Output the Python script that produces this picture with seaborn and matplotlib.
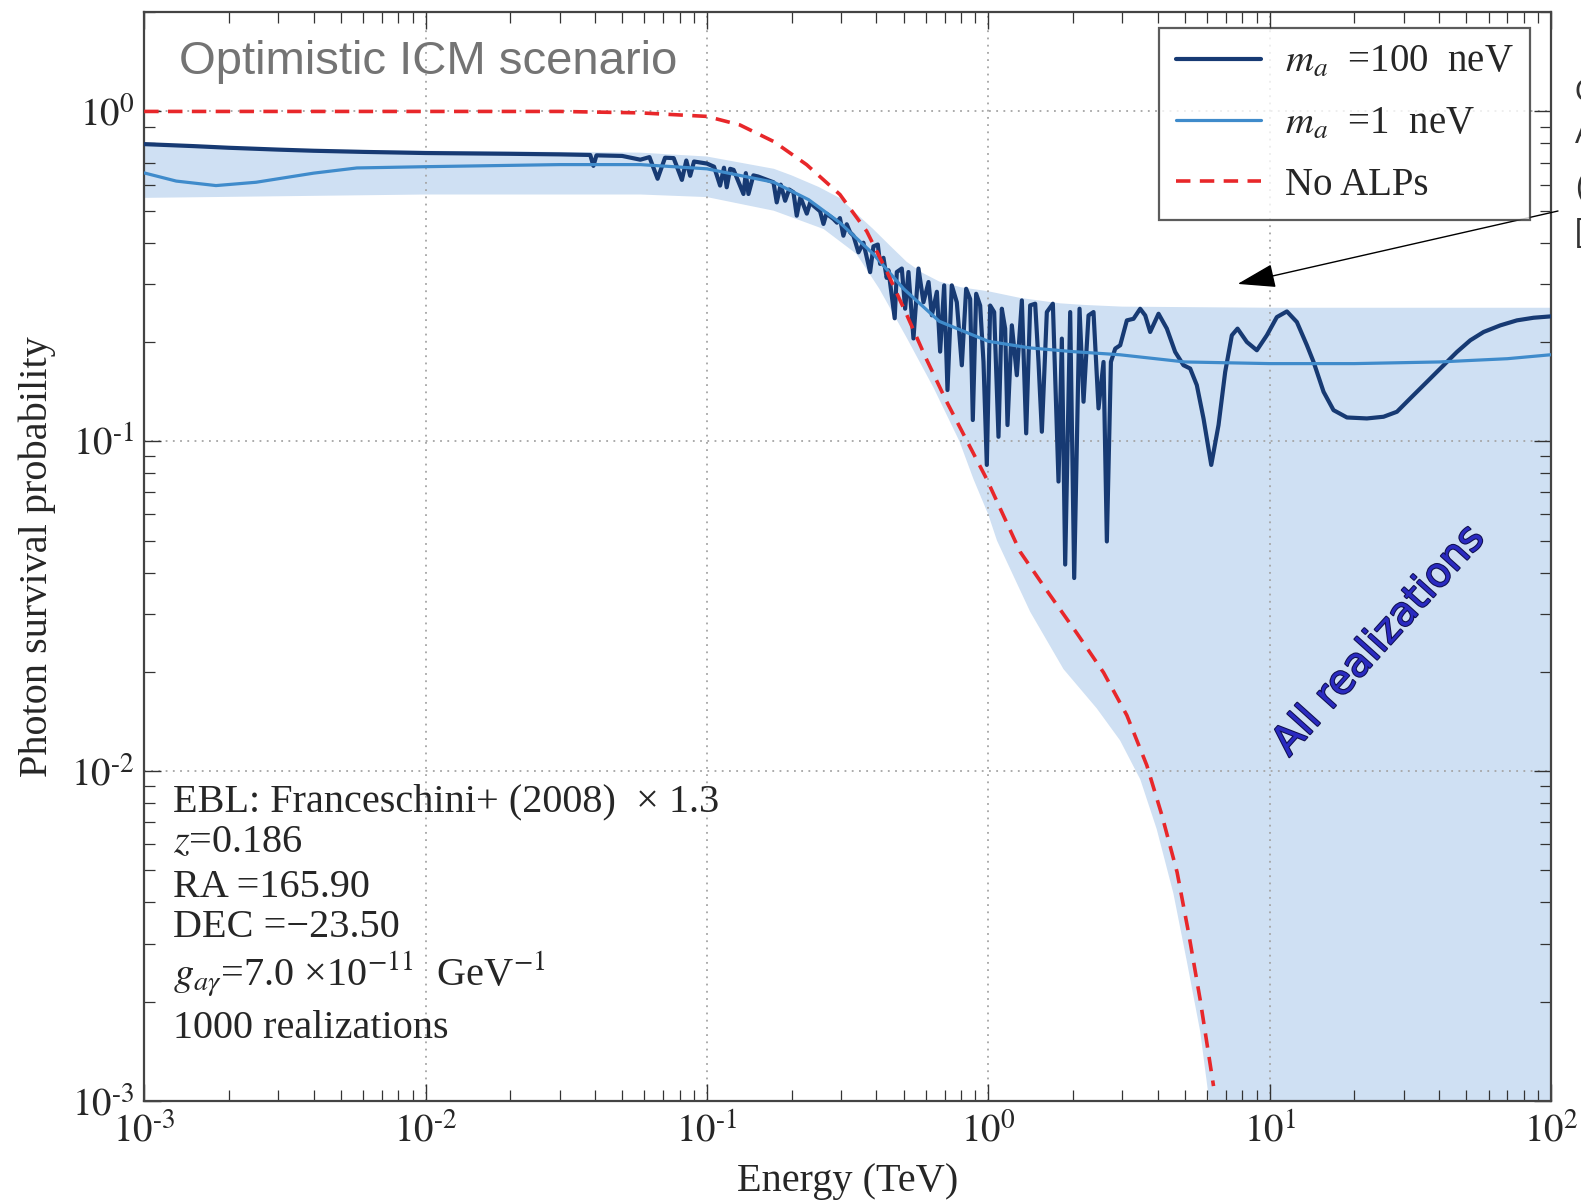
import numpy as np
import pandas as pd
import seaborn as sns
import matplotlib.pyplot as plt
import matplotlib.patheffects as pe
from matplotlib.ticker import FuncFormatter

# photon survival probability vs energy (TeV)

# m_a = 100 neV
e_100 = [0.001, 0.0015, 0.002, 0.003, 0.004, 0.006, 0.01, 0.02, 0.03, 0.0385,
         0.0395, 0.0405, 0.05, 0.052, 0.058, 0.0625, 0.0668, 0.071, 0.0762, 0.0815,
         0.0845, 0.0872, 0.09, 0.1, 0.106, 0.1114, 0.115, 0.1176, 0.121, 0.1244,
         0.1349, 0.1375, 0.1405, 0.1463, 0.152, 0.1724, 0.1771, 0.183, 0.1897, 0.196,
         0.203, 0.2086, 0.215, 0.2265, 0.233, 0.2392, 0.2525, 0.2596, 0.266, 0.2817,
         0.29, 0.297, 0.3056, 0.314, 0.3229, 0.3318, 0.3457, 0.36, 0.3803, 0.3908,
         0.405, 0.4127, 0.4242, 0.4355, 0.4419, 0.465, 0.4732, 0.4929, 0.5065, 0.5205,
         0.5422, 0.5649, 0.5885, 0.6134, 0.6303, 0.6567, 0.6745, 0.6971, 0.7163, 0.742,
         0.7731, 0.8055, 0.8346, 0.8624, 0.8813, 0.9058, 0.9359, 0.9618, 0.9883, 1.0158,
         1.0496, 1.0874, 1.1176, 1.1484, 1.1706, 1.2129, 1.2636, 1.3165, 1.364, 1.4093,
         1.4683, 1.5088, 1.5507, 1.6152, 1.6968, 1.777, 1.8263, 1.8768, 1.9553, 2.0204,
         2.1107, 2.1808, 2.272, 2.3666, 2.4656, 2.5688, 2.6397, 2.7286, 2.8267, 2.9442,
         3.1094, 3.283, 3.467, 3.613, 3.763, 4.029, 4.313, 4.617, 4.943, 5.22,
         5.512, 5.822, 6.202, 6.583, 6.952, 7.342, 7.691, 8.301, 9.008, 9.777,
         10.61, 11.52, 12.5, 13.57, 14.33, 15.55, 16.87, 18.83, 22.17, 25.41,
         28.35, 31.61, 36.23, 41.52, 46.33, 51.67, 57.63, 66.03, 75.68, 86.75,
         100]
p_100 = [0.796, 0.785, 0.776, 0.766, 0.76, 0.754, 0.748, 0.744, 0.741, 0.738,
         0.684, 0.736, 0.733, 0.728, 0.714, 0.727, 0.625, 0.724, 0.722, 0.62,
         0.71, 0.638, 0.705, 0.695, 0.68, 0.596, 0.675, 0.589, 0.67, 0.665,
         0.562, 0.65, 0.562, 0.64, 0.635, 0.61, 0.53, 0.60, 0.536, 0.58,
         0.569, 0.483, 0.55, 0.49, 0.53, 0.518, 0.498, 0.456, 0.49, 0.472,
         0.46, 0.475, 0.42, 0.455, 0.43, 0.42, 0.374, 0.40, 0.3257, 0.39,
         0.395, 0.345, 0.36, 0.313, 0.33, 0.236, 0.326, 0.334, 0.2523, 0.326,
         0.205, 0.334, 0.264, 0.304, 0.241, 0.284, 0.187, 0.297, 0.143, 0.297,
         0.264, 0.170, 0.290, 0.27, 0.116, 0.280, 0.258, 0.174, 0.0848, 0.258,
         0.2465, 0.1032, 0.2523, 0.2196, 0.112, 0.2247, 0.1586, 0.2674, 0.1057, 0.2583,
         0.2613, 0.174, 0.1069, 0.2465, 0.2613, 0.0755, 0.2048, 0.0423, 0.2465, 0.0385,
         0.2523, 0.1318, 0.2408, 0.2465, 0.1258, 0.174, 0.0497, 0.174, 0.191, 0.1955,
         0.2326, 0.2352, 0.2522, 0.2408, 0.2145, 0.2436, 0.2196, 0.1866, 0.1701, 0.1662,
         0.148, 0.1173, 0.0848, 0.112, 0.1623, 0.2096, 0.2196, 0.2, 0.1888, 0.2096,
         0.238, 0.2476, 0.2299, 0.1955, 0.174, 0.1413, 0.1243, 0.1181, 0.1173, 0.1187,
         0.1229, 0.1349, 0.1514, 0.1701, 0.1866, 0.2024, 0.2145, 0.2246, 0.2326, 0.2369,
         0.2392]

# m_a = 1 neV
e_1 = [0.001, 0.0013, 0.0018, 0.0025, 0.004, 0.0057, 0.01, 0.03, 0.058, 0.1,
       0.173, 0.23, 0.297, 0.39, 0.5, 0.67, 1.0, 1.4, 2.0, 2.93,
       5.0, 10, 20, 40, 70, 100]
p_1 = [0.651, 0.615, 0.596, 0.61, 0.65, 0.674, 0.68, 0.69, 0.69, 0.67,
       0.61, 0.54, 0.46, 0.37, 0.29, 0.231, 0.201, 0.192, 0.187, 0.183,
       0.174, 0.172, 0.172, 0.174, 0.178, 0.183]

# no ALPs
e_no = [0.001, 0.03, 0.058, 0.1, 0.131, 0.173, 0.226, 0.297, 0.37, 0.436,
        0.513, 0.60, 0.711, 0.986, 1.297, 1.614, 2.065, 2.57, 3.11, 3.66,
        4.14, 4.69, 5.15, 5.67, 6.32]
p_no = [1.0, 1.0, 0.99, 0.966, 0.91, 0.81, 0.69, 0.56, 0.433, 0.327,
        0.242, 0.179, 0.132, 0.077, 0.0463, 0.0353, 0.0262, 0.0199, 0.01476, 0.01042,
        0.00736, 0.00494, 0.00324, 0.00202, 0.00111]

# envelope of all realizations
e_up = [0.001, 0.003, 0.01, 0.058, 0.1, 0.173, 0.2, 0.25, 0.297, 0.34,
        0.39, 0.45, 0.513, 0.58, 0.67, 0.8, 1.0, 1.3, 1.8, 2.2, 3.0, 10, 100]
p_up = [0.80, 0.77, 0.76, 0.75, 0.73, 0.67, 0.64, 0.59, 0.546, 0.49,
        0.44, 0.39, 0.35, 0.325, 0.305, 0.293, 0.285, 0.272, 0.262, 0.259, 0.256, 0.254, 0.254]
e_low = [0.001, 0.01, 0.058, 0.1, 0.173, 0.26, 0.34, 0.41, 0.513, 0.64,
         0.79, 0.885, 1.0, 1.074, 1.41, 1.85, 2.43, 2.94, 3.47, 3.97,
         4.55, 5.08, 5.67, 6.1, 6.3, 100]
p_low = [0.547, 0.56, 0.56, 0.55, 0.50, 0.44, 0.37, 0.29, 0.206, 0.145,
         0.10, 0.077, 0.06, 0.05, 0.0304, 0.0204, 0.0155, 0.0124, 0.00944, 0.00667,
         0.00426, 0.00265, 0.00162, 0.001, 0.0005, 0.0005]

info_lines = ['EBL: Franceschini+ (2008)  \u00d7 1.3',
              '$z$=0.186',
              'RA =165.90',
              'DEC =\u221223.50',
              '$g_{a\\gamma}$=7.0 \u00d710$^{-11}$  GeV$^{-1}$',
              '1000 realizations']

sns.set_style('ticks')
plt.rcParams['font.family'] = ['Liberation Serif', 'DejaVu Serif']
plt.rcParams['mathtext.fontset'] = 'stix'

fig = plt.figure(figsize=(15.81, 12.02), dpi=100)
ax = fig.add_axes([0.0912, 0.0840, 0.8898, 0.9059])

band_x = e_up + e_low[::-1]
band_y = p_up + p_low[::-1]
ax.fill(band_x, band_y, color='#cfe0f3', lw=0, zorder=1)

sns.lineplot(x=e_100, y=p_100, ax=ax, color='#173a73', lw=3.0,
             label='$m_a$  =100  neV', zorder=3)
sns.lineplot(x=e_1, y=p_1, ax=ax, color='#3f8bcb', lw=2.3,
             label='$m_a$  =1  neV', zorder=4)
sns.lineplot(x=e_no, y=p_no, ax=ax, color='#e8272a', lw=2.6,
             linestyle=(0, (4, 2.6)), label='No ALPs', zorder=5)

ax.set_xscale('log')
ax.set_yscale('log')
ax.set_xlim(1e-3, 1e2)
ax.set_ylim(1e-3, 2.0)


def pow_label(v, pos):
    k = int(round(np.log10(v)))
    return '$10^{%s}$' % str(k).replace('-', '\u2010')


ax.xaxis.set_major_formatter(FuncFormatter(pow_label))
ax.yaxis.set_major_formatter(FuncFormatter(pow_label))

ax.set_axisbelow('line')
ax.grid(True, which='major', color='#a5a5a5', ls=(0, (1, 3)), lw=1.3)
ax.tick_params(which='both', direction='in', top=True, right=True,
               labelsize=28, color='#333333')
ax.tick_params(which='major', length=12, width=1.0)
ax.tick_params(which='minor', length=8, width=0.9)
ax.tick_params(axis='x', pad=9)
ax.tick_params(axis='y', pad=7)
for s in ax.spines.values():
    s.set_linewidth(1.6)
    s.set_color('#444444')

ax.set_xlabel('Energy (TeV)', fontsize=29)
ax.set_ylabel('Photon survival probability', fontsize=29)
ax.xaxis.set_label_coords(0.5, -0.057)
ax.yaxis.set_label_coords(-0.063, 0.5)

leg = ax.legend(loc='upper right', bbox_to_anchor=(0.985, 0.9854), borderaxespad=0,
                fontsize=28, frameon=True, fancybox=False, edgecolor='#333333',
                handlelength=2.2, handletextpad=0.6, labelspacing=0.62,
                borderpad=0.42)
leg.get_frame().set_linewidth(1.6)

ax.text(0.0244, 0.954, 'Optimistic ICM scenario', transform=ax.transAxes,
        fontsize=34, color='#747474', family=['Liberation Sans', 'DejaVu Sans'],
        ha='left', va='center')

for ypos, line in zip([0.275, 0.237, 0.196, 0.159, 0.117, 0.067], info_lines):
    ax.text(0.0208, ypos, line, transform=ax.transAxes, fontsize=29,
            ha='left', va='center')

ax.text(24.5, 0.0248, 'All realizations', rotation=48, rotation_mode='anchor',
        ha='center', va='center', fontsize=29, color='#2a2ac0',
        family=['DejaVu Sans'],
        path_effects=[pe.withStroke(linewidth=1.5, foreground='#101050')])

ax.annotate('', xy=(7.7, 0.30), xycoords='data',
            xytext=(1558 / 1581, 1 - 211 / 1202), textcoords='figure fraction',
            arrowprops=dict(arrowstyle='-|>,head_length=1.6,head_width=0.5',
                            color='black', lw=1.0, mutation_scale=15,
                            shrinkA=0, shrinkB=0),
            annotation_clip=False)

# labels cut off at the right edge of the figure
for ypix, ch in zip([93, 135, 188, 233], ['C', 'A', '(', '[']):
    fig.text(1575 / 1581, 1 - ypix / 1202, ch, fontsize=22, color='#333333',
             family=['Liberation Sans', 'DejaVu Sans'], ha='left', va='center')

plt.savefig('out.png', dpi=100)
